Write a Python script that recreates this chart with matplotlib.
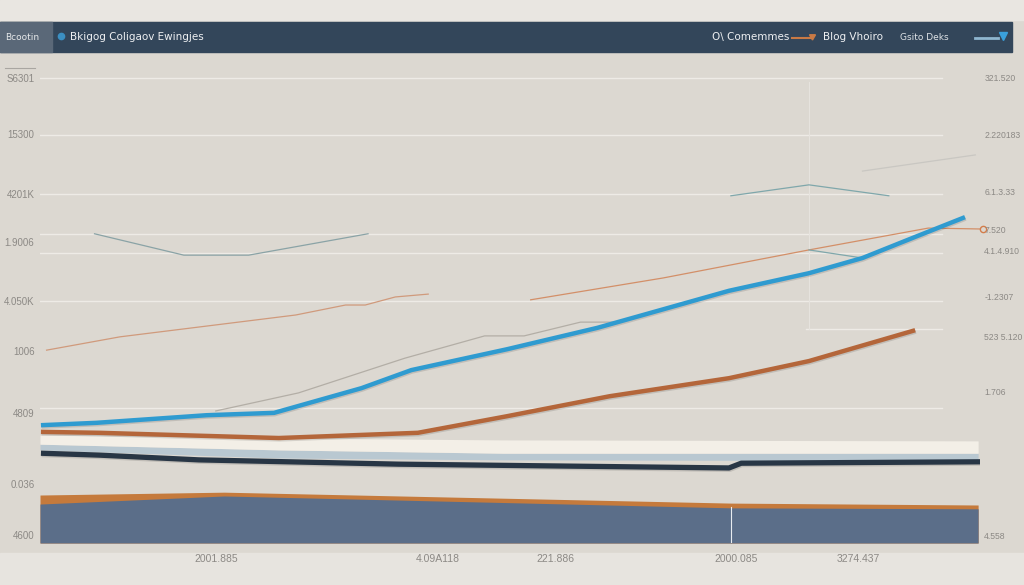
import matplotlib
matplotlib.use("Agg")
import matplotlib.pyplot as plt
from matplotlib.patches import Rectangle
import matplotlib.patheffects as pe

# ---- data (arbitrary 0-100 units) ----
blue_x = [0.1, 6.0, 17.7, 24.9, 34.2, 39.5, 49.7, 59.3, 73.3, 81.8, 87.5, 92.8, 98.4]
blue_y = [24.8, 25.3, 26.9, 27.4, 32.6, 36.4, 40.8, 45.3, 53.1, 56.8, 60.0, 64.2, 68.6]

brown_x = [0.1, 6.3, 25.4, 40.2, 49.7, 60.6, 73.3, 81.8, 93.1]
brown_y = [23.4, 23.2, 22.1, 23.2, 26.7, 30.9, 34.7, 38.3, 44.8]

navy_x = [0.1, 6.3, 16.9, 38.1, 73.3, 74.6, 100.5]
navy_y = [18.9, 18.5, 17.5, 16.6, 15.8, 16.8, 17.1]

band_x = [0.0, 25.4, 49.2, 99.8]
cream_top = [22.7, 22.1, 21.7, 21.5]
cream_bot = [20.8, 19.6, 18.9, 18.9]
pale_bot = [19.6, 17.9, 17.5, 17.3]

area_x = [0.0, 19.6, 73.5, 99.8]
area_orange = [10.1, 10.7, 8.4, 8.0]
area_blue = [8.2, 9.9, 7.4, 7.2]

teal_x = [5.8, 15.3, 22.2, 34.9]
teal_y = [65.1, 60.6, 60.6, 65.1]

orange_left_x = [0.7, 8.5, 27.2, 32.5, 34.6, 37.8, 41.3]
orange_left_y = [40.6, 43.4, 48.0, 50.1, 50.1, 51.8, 52.4]

orange_right_x = [52.2, 66.3, 81.8, 94.5, 100.3]
orange_right_y = [51.2, 55.8, 61.7, 66.3, 66.1]

mid_x = [18.7, 27.5, 38.8, 47.3, 51.5, 57.5, 61.4]
mid_y = [27.8, 31.6, 38.9, 43.6, 43.6, 46.5, 46.5]

teal_top_x = [73.5, 81.8, 90.3]
teal_top_y = [73.1, 75.4, 73.1]
gray_top_x = [87.5, 99.5]
gray_top_y = [78.3, 81.7]
teal_small_x = [81.8, 87.5]
teal_small_y = [61.7, 60.0]

grid_y = [97.9, 86.0, 73.5, 65.1, 61.1, 50.9, 28.4]

left_ticks = [97.9, 86.0, 73.5, 63.4, 50.9, 40.4, 27.4, 12.4, 1.7]
left_labels = ["S6301", "15300", "4201K", "1.9006", "4.050K", "1006", "4809", "0.036", "4600"]
right_ticks = [97.9, 86.0, 74.1, 65.9, 61.5, 51.8, 43.4, 31.8, 1.5]
right_labels = ["321.520", "2.220183", "6.1.3.33", "7.520", "4.1.4.910", "-1.2307",
                "523 5.120", "1.706", "4.558"]
bottom_ticks = [18.8, 42.3, 54.8, 74.1, 87.0]
bottom_labels = ["2001.885", "4.09A118", "221.886", "2000.085", "3274.437"]

LAB_FONT = "Liberation Sans"
BG = "#dcd8d1"
fig = plt.figure(figsize=(10.24, 5.85), dpi=100, facecolor=BG)

# ---- decoration layer (header bar, bands) in pixel coords ----
deco = fig.add_axes([0, 0, 1, 1], zorder=0)
deco.set_xlim(0, 1024)
deco.set_ylim(585, 0)
deco.axis("off")
deco.add_patch(Rectangle((0, 0), 1024, 20, color="#e9e6e1"))
deco.add_patch(Rectangle((0, 553), 1024, 32, color="#e7e4df"))
deco.add_patch(Rectangle((0, 22), 1012, 30, color="#33465a"))
deco.add_patch(Rectangle((0, 22), 52, 30, color="#5a6878"))
deco.text(5, 37, "Bcootin", color="#e6e8ea", fontsize=6.5, va="center")
deco.plot([61], [36], "o", color="#3b8fc2", ms=4.5)
deco.text(70, 37, "Bkigog Coligaov Ewingjes", color="#eef0f2", fontsize=7.5, va="center")
deco.text(712, 37, "O\\ Comemmes", color="#eef0f2", fontsize=7.5, va="center")
deco.plot([792, 812], [38, 38], color="#c97a45", lw=1.5)
deco.plot([812], [36], marker=(3, 0, 180), color="#c97a45", ms=5)
deco.text(823, 37, "Blog Vhoiro", color="#eef0f2", fontsize=7.5, va="center")
deco.text(900, 37, "Gsito Deks", color="#dfe3e7", fontsize=6.5, va="center")
deco.plot([975, 998], [38, 38], color="#8fb6cf", lw=2)
deco.plot([1003], [36], marker="v", color="#3aa0dc", ms=6)
deco.plot([5, 35], [68, 68], color="#a9a6a1", lw=0.8)

# ---- main chart ----
ax = fig.add_axes([40 / 1024, 42 / 585, 940 / 1024, 475 / 585], zorder=1)
ax.set_facecolor("none")
ax.set_xlim(0, 100)
ax.set_ylim(0, 100)
for s in ax.spines.values():
    s.set_visible(False)

for g in grid_y:
    ax.axhline(g, xmin=0, xmax=0.96, color="#eeebe6", lw=1.0, zorder=1)
ax.axhline(45.1, xmin=0.815, xmax=0.96, color="#eeebe6", lw=1.0, zorder=1)
ax.axvline(81.8, ymin=0.45, ymax=0.97, color="#e6e3de", lw=0.8, zorder=1)

# bottom area with orange rim
ax.fill_between(area_x, 0, area_orange, color="#c57a3c", zorder=2, lw=0)
ax.fill_between(area_x, 0, area_blue, color="#5b6e89", zorder=3, lw=0)
ax.axvline(73.5, ymin=0, ymax=0.075, color="#e8ecf0", lw=0.8, zorder=4)

# pale bands
ax.fill_between(band_x, pale_bot, cream_bot, color="#b9c8d1", zorder=3, lw=0)
ax.fill_between(band_x, cream_bot, cream_top, color="#f3efe7", zorder=4, lw=0)

shadow = [pe.SimpleLineShadow(offset=(0.5, -1), alpha=0.12), pe.Normal()]

ax.plot(navy_x, navy_y, color="#283645", lw=3.8, solid_capstyle="butt", zorder=5,
        path_effects=shadow)
ax.plot(brown_x, brown_y, color="#b4663a", lw=3.2, solid_capstyle="butt", zorder=6,
        path_effects=shadow)
ax.plot(blue_x, blue_y, color="#2f9bd0", lw=3.2, solid_capstyle="butt", zorder=7,
        path_effects=shadow)

ax.plot(teal_x, teal_y, color="#8aa3a6", lw=0.9, zorder=5)
ax.plot(orange_left_x, orange_left_y, color="#d09a7c", lw=0.9, zorder=5)
ax.plot(orange_right_x, orange_right_y, color="#d38f68", lw=0.9, zorder=5)
ax.plot(orange_right_x[-1:], orange_right_y[-1:], "o", mfc="none", mec="#d37d4b",
        ms=4.5, clip_on=False, zorder=8)
ax.plot(mid_x, mid_y, color="#b3aea6", lw=0.9, zorder=5)
ax.plot(teal_top_x, teal_top_y, color="#7fa7ab", lw=0.9, zorder=5)
ax.plot(gray_top_x, gray_top_y, color="#c9c7c2", lw=0.9, zorder=5)
ax.plot(teal_small_x, teal_small_y, color="#7fa7ab", lw=0.9, zorder=5)

tick_col = "#8c8985"
ax.set_yticks(left_ticks)
ax.set_yticklabels(left_labels, fontsize=7, color=tick_col, family=LAB_FONT)
ax.set_xticks(bottom_ticks)
ax.set_xticklabels(bottom_labels, fontsize=7.5, color=tick_col, family=LAB_FONT)
ax.tick_params(axis="y", length=0, pad=4)
ax.tick_params(axis="x", length=0, pad=8)

ax2 = ax.twinx()
ax2.set_ylim(0, 100)
for s in ax2.spines.values():
    s.set_visible(False)
ax2.set_yticks(right_ticks)
ax2.set_yticklabels(right_labels, fontsize=6.2, color=tick_col, family=LAB_FONT)
ax2.tick_params(length=0, pad=3)

fig.savefig("out.png", dpi=100, facecolor=fig.get_facecolor())
